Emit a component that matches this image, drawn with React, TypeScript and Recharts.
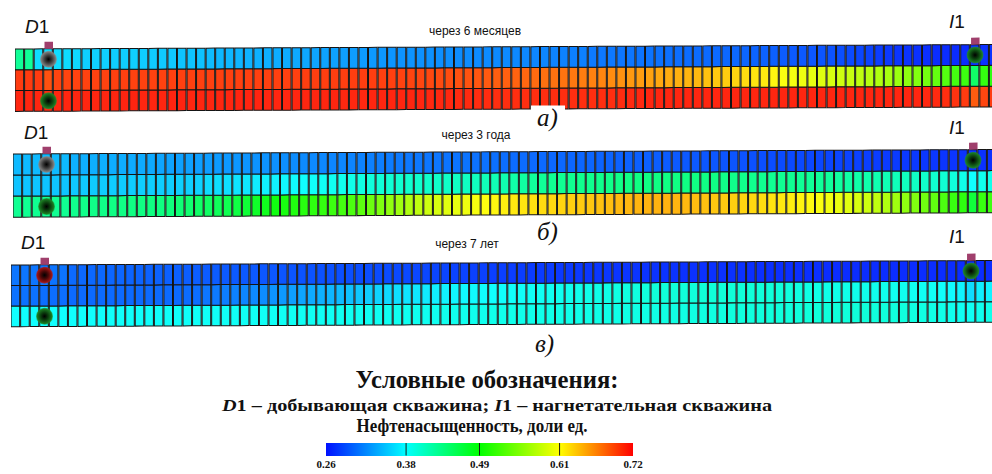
import React from 'react'
import { BarChart, Bar, XAxis, YAxis, Cell, ReferenceDot, ReferenceLine } from 'recharts'

// Нефтенасыщенность по ячейкам профиля: 3 слоя (сверху вниз) x 103 столбца.
const COLS = 103

// а) через 6 месяцев
const satA1 = [
  0.428, 0.428, 0.362, 0.362, 0.362, 0.362, 0.360, 0.356, 0.356, 0.356,
  0.355, 0.355, 0.355, 0.354, 0.354, 0.353, 0.352, 0.350, 0.350, 0.349,
  0.346, 0.344, 0.343, 0.342, 0.341, 0.340, 0.339, 0.338, 0.337, 0.336,
  0.335, 0.334, 0.333, 0.332, 0.331, 0.330, 0.329, 0.328, 0.327, 0.326,
  0.325, 0.325, 0.324, 0.324, 0.323, 0.323, 0.322, 0.322, 0.321, 0.321,
  0.320, 0.320, 0.319, 0.319, 0.318, 0.318, 0.317, 0.316, 0.315, 0.315,
  0.312, 0.311, 0.311, 0.310, 0.310, 0.309, 0.309, 0.308, 0.307, 0.306,
  0.305, 0.305, 0.304, 0.304, 0.303, 0.303, 0.302, 0.301, 0.300, 0.299,
  0.297, 0.296, 0.295, 0.294, 0.293, 0.292, 0.290, 0.288, 0.286, 0.284,
  0.281, 0.279, 0.277, 0.276, 0.275, 0.274, 0.273, 0.273, 0.272, 0.272,
  0.274, 0.275, 0.276,
]
const satA2 = [
  0.700, 0.700, 0.700, 0.690, 0.696, 0.696, 0.697, 0.697, 0.697, 0.697,
  0.698, 0.698, 0.697, 0.697, 0.697, 0.697, 0.698, 0.698, 0.698, 0.698,
  0.698, 0.698, 0.698, 0.698, 0.698, 0.698, 0.698, 0.698, 0.698, 0.698,
  0.699, 0.699, 0.699, 0.699, 0.699, 0.699, 0.699, 0.699, 0.698, 0.698,
  0.697, 0.696, 0.695, 0.694, 0.693, 0.692, 0.690, 0.689, 0.688, 0.686,
  0.684, 0.683, 0.682, 0.680, 0.678, 0.676, 0.675, 0.674, 0.672, 0.670,
  0.668, 0.666, 0.663, 0.660, 0.657, 0.655, 0.653, 0.650, 0.648, 0.646,
  0.644, 0.642, 0.638, 0.635, 0.633, 0.630, 0.626, 0.622, 0.619, 0.614,
  0.608, 0.605, 0.602, 0.598, 0.594, 0.590, 0.586, 0.582, 0.578, 0.574,
  0.570, 0.566, 0.560, 0.553, 0.547, 0.540, 0.532, 0.524, 0.516, 0.512,
  0.450, 0.508, 0.505,
]
const satA3 = [
  0.710, 0.710, 0.710, 0.708, 0.710, 0.710, 0.710, 0.710, 0.710, 0.710,
  0.710, 0.711, 0.711, 0.710, 0.710, 0.710, 0.711, 0.711, 0.710, 0.710,
  0.710, 0.710, 0.710, 0.711, 0.711, 0.711, 0.710, 0.710, 0.710, 0.710,
  0.710, 0.710, 0.710, 0.710, 0.709, 0.709, 0.709, 0.710, 0.710, 0.710,
  0.710, 0.710, 0.710, 0.709, 0.709, 0.709, 0.708, 0.708, 0.707, 0.707,
  0.706, 0.706, 0.706, 0.706, 0.706, 0.706, 0.706, 0.706, 0.706, 0.706,
  0.706, 0.706, 0.706, 0.707, 0.708, 0.709, 0.710, 0.710, 0.710, 0.710,
  0.710, 0.710, 0.710, 0.710, 0.710, 0.710, 0.710, 0.710, 0.710, 0.710,
  0.710, 0.710, 0.710, 0.710, 0.710, 0.710, 0.710, 0.710, 0.710, 0.710,
  0.710, 0.710, 0.710, 0.710, 0.710, 0.709, 0.708, 0.706, 0.704, 0.700,
  0.685, 0.695, 0.700,
]

// б) через 3 года
const satB1 = [
  0.345, 0.345, 0.345, 0.345, 0.345, 0.345, 0.340, 0.339, 0.339, 0.339,
  0.338, 0.338, 0.337, 0.337, 0.336, 0.334, 0.333, 0.332, 0.332, 0.331,
  0.330, 0.329, 0.328, 0.327, 0.326, 0.325, 0.325, 0.324, 0.323, 0.322,
  0.321, 0.320, 0.319, 0.318, 0.318, 0.317, 0.316, 0.315, 0.314, 0.313,
  0.312, 0.311, 0.311, 0.310, 0.310, 0.309, 0.309, 0.309, 0.308, 0.308,
  0.307, 0.306, 0.305, 0.305, 0.304, 0.304, 0.303, 0.303, 0.302, 0.302,
  0.302, 0.301, 0.301, 0.300, 0.300, 0.299, 0.299, 0.298, 0.297, 0.296,
  0.295, 0.295, 0.294, 0.294, 0.293, 0.293, 0.292, 0.291, 0.290, 0.289,
  0.288, 0.287, 0.287, 0.286, 0.286, 0.285, 0.285, 0.284, 0.283, 0.282,
  0.281, 0.280, 0.280, 0.279, 0.279, 0.278, 0.278, 0.277, 0.277, 0.276,
  0.275, 0.275, 0.275,
]
const satB2 = [
  0.350, 0.350, 0.350, 0.350, 0.350, 0.350, 0.352, 0.353, 0.353, 0.354,
  0.354, 0.354, 0.354, 0.355, 0.355, 0.355, 0.355, 0.356, 0.356, 0.357,
  0.362, 0.363, 0.364, 0.366, 0.368, 0.370, 0.372, 0.374, 0.376, 0.378,
  0.380, 0.382, 0.384, 0.386, 0.388, 0.390, 0.393, 0.396, 0.398, 0.400,
  0.401, 0.402, 0.403, 0.404, 0.405, 0.406, 0.407, 0.408, 0.410, 0.412,
  0.414, 0.417, 0.420, 0.423, 0.426, 0.428, 0.430, 0.430, 0.431, 0.432,
  0.432, 0.433, 0.434, 0.435, 0.436, 0.437, 0.437, 0.437, 0.437, 0.437,
  0.437, 0.437, 0.436, 0.436, 0.435, 0.434, 0.433, 0.432, 0.431, 0.430,
  0.430, 0.430, 0.429, 0.428, 0.427, 0.426, 0.424, 0.422, 0.420, 0.418,
  0.416, 0.414, 0.412, 0.410, 0.407, 0.404, 0.402, 0.400, 0.396, 0.390,
  0.380, 0.388, 0.390,
]
const satB3 = [
  0.430, 0.430, 0.430, 0.430, 0.430, 0.430, 0.432, 0.434, 0.435, 0.435,
  0.436, 0.436, 0.437, 0.437, 0.438, 0.438, 0.440, 0.443, 0.446, 0.450,
  0.452, 0.456, 0.460, 0.466, 0.472, 0.478, 0.484, 0.490, 0.494, 0.498,
  0.502, 0.505, 0.508, 0.512, 0.516, 0.520, 0.528, 0.536, 0.545, 0.555,
  0.562, 0.570, 0.578, 0.585, 0.590, 0.595, 0.598, 0.602, 0.606, 0.610,
  0.614, 0.617, 0.620, 0.622, 0.624, 0.626, 0.628, 0.630, 0.632, 0.634,
  0.636, 0.638, 0.640, 0.642, 0.643, 0.644, 0.645, 0.645, 0.645, 0.644,
  0.642, 0.640, 0.638, 0.636, 0.634, 0.632, 0.630, 0.628, 0.625, 0.622,
  0.620, 0.618, 0.615, 0.612, 0.608, 0.604, 0.600, 0.595, 0.590, 0.585,
  0.578, 0.570, 0.562, 0.554, 0.546, 0.538, 0.530, 0.520, 0.510, 0.505,
  0.470, 0.510, 0.512,
]

// в) через 7 лет
const satC1 = [
  0.310, 0.310, 0.310, 0.309, 0.309, 0.309, 0.304, 0.303, 0.303, 0.303,
  0.302, 0.302, 0.301, 0.301, 0.300, 0.300, 0.299, 0.299, 0.298, 0.298,
  0.297, 0.297, 0.296, 0.296, 0.295, 0.295, 0.294, 0.294, 0.293, 0.293,
  0.292, 0.292, 0.291, 0.291, 0.290, 0.290, 0.289, 0.289, 0.288, 0.288,
  0.287, 0.287, 0.286, 0.286, 0.285, 0.285, 0.284, 0.284, 0.283, 0.283,
  0.282, 0.282, 0.281, 0.281, 0.280, 0.280, 0.280, 0.279, 0.279, 0.279,
  0.278, 0.278, 0.278, 0.277, 0.277, 0.277, 0.276, 0.276, 0.276, 0.276,
  0.275, 0.275, 0.275, 0.275, 0.275, 0.275, 0.275, 0.274, 0.274, 0.274,
  0.274, 0.274, 0.274, 0.274, 0.274, 0.273, 0.273, 0.273, 0.273, 0.273,
  0.273, 0.273, 0.273, 0.273, 0.273, 0.273, 0.273, 0.273, 0.273, 0.273,
  0.273, 0.273, 0.273,
]
const satC2 = [
  0.308, 0.308, 0.308, 0.306, 0.306, 0.306, 0.304, 0.304, 0.304, 0.304,
  0.304, 0.304, 0.304, 0.304, 0.304, 0.304, 0.304, 0.304, 0.305, 0.306,
  0.310, 0.312, 0.314, 0.316, 0.318, 0.320, 0.322, 0.325, 0.328, 0.331,
  0.334, 0.337, 0.340, 0.343, 0.346, 0.349, 0.352, 0.355, 0.358, 0.361,
  0.364, 0.366, 0.368, 0.370, 0.372, 0.374, 0.376, 0.377, 0.378, 0.379,
  0.380, 0.381, 0.382, 0.383, 0.384, 0.385, 0.386, 0.387, 0.388, 0.389,
  0.390, 0.391, 0.392, 0.393, 0.394, 0.395, 0.396, 0.397, 0.397, 0.397,
  0.397, 0.397, 0.398, 0.398, 0.398, 0.398, 0.398, 0.398, 0.397, 0.397,
  0.396, 0.395, 0.394, 0.393, 0.392, 0.391, 0.390, 0.390, 0.389, 0.389,
  0.388, 0.388, 0.387, 0.387, 0.386, 0.385, 0.384, 0.382, 0.378, 0.374,
  0.362, 0.372, 0.374,
]
const satC3 = [
  0.380, 0.380, 0.380, 0.380, 0.380, 0.380, 0.381, 0.381, 0.381, 0.381,
  0.382, 0.382, 0.382, 0.382, 0.382, 0.382, 0.383, 0.383, 0.383, 0.383,
  0.383, 0.383, 0.384, 0.384, 0.384, 0.384, 0.384, 0.384, 0.385, 0.385,
  0.385, 0.385, 0.385, 0.385, 0.386, 0.386, 0.386, 0.386, 0.386, 0.386,
  0.387, 0.387, 0.387, 0.387, 0.387, 0.388, 0.388, 0.388, 0.388, 0.388,
  0.389, 0.389, 0.389, 0.389, 0.389, 0.390, 0.390, 0.390, 0.390, 0.390,
  0.391, 0.391, 0.391, 0.391, 0.392, 0.392, 0.392, 0.392, 0.393, 0.393,
  0.393, 0.393, 0.394, 0.394, 0.394, 0.395, 0.395, 0.395, 0.395, 0.396,
  0.396, 0.396, 0.396, 0.397, 0.397, 0.397, 0.397, 0.397, 0.397, 0.397,
  0.396, 0.396, 0.395, 0.395, 0.394, 0.393, 0.392, 0.390, 0.388, 0.386,
  0.385, 0.388, 0.390,
]

// все три слоя одинаковой толщины
const LAYER_KEYS = ['bottom', 'middle', 'top']
const LAYER_THICKNESS = [1, 1, 1]

// шкала нефтенасыщенности
const SCALE_STOPS = [0.26, 0.38, 0.49, 0.61, 0.72]
const SCALE_COLORS = ['#0a14ff', '#10ffff', '#10ff10', '#ffff10', '#ff1010']
const LEGEND_COLORS = ['#0010ff', '#00ffff', '#00ff00', '#ffff00', '#ff0000']
const LEGEND_DATA = [{ name: 'sat', span: [0.26, 0.72] }]

const SANS = "'Liberation Sans', Arial, sans-serif"
const SERIF = "'Liberation Serif', 'Times New Roman', serif"

const hexRgb = (h: string) => [1, 3, 5].map((p) => parseInt(h.slice(p, p + 2), 16))

function satColor(s: number) {
  const v = Math.min(Math.max(s, SCALE_STOPS[0]), SCALE_STOPS[SCALE_STOPS.length - 1])
  let k = 0
  while (k < SCALE_STOPS.length - 2 && v > SCALE_STOPS[k + 1]) k++
  const t = (v - SCALE_STOPS[k]) / (SCALE_STOPS[k + 1] - SCALE_STOPS[k])
  const a = hexRgb(SCALE_COLORS[k])
  const b = hexRgb(SCALE_COLORS[k + 1])
  const c = a.map((x, i) => Math.round(x + (b[i] - x) * t))
  return `rgb(${c[0]},${c[1]},${c[2]})`
}

type Well = { col: number; layer: 'top' | 'bottom'; tone: 'gray' | 'green' | 'red'; cap?: boolean }

const WellMark = ({ cx, cy, tone, cap, rowH }: any) => (
  <g>
    {cap && <rect x={cx - 4} y={cy - rowH / 2 - 7} width={8.5} height={7} fill="#a03f6c" />}
    <circle cx={cx} cy={cy} r={8.5} fill={`url(#well-${tone})`} />
  </g>
)

const PLOT_W = 984
const TOP_PAD = 12

const Panel = ({ rows, left, top, height, wells }: {
  rows: number[][]; left: number; top: number; height: number; wells: Well[]
}) => {
  const data = rows[0].map((_, i) => {
    const d: Record<string, number> = { col: i }
    LAYER_KEYS.forEach((k, j) => (d[k] = LAYER_THICKNESS[j]))
    return d
  })
  // rows идут сверху вниз, стек строится снизу вверх
  const byLayer = [rows[2], rows[1], rows[0]]
  const rowH = height / 3
  return (
    <div style={{ position: 'absolute', left, top: top - TOP_PAD, transform: 'skewY(-0.26deg)', transformOrigin: '0 0' }}>
      <BarChart
        width={PLOT_W}
        height={height + TOP_PAD + 2}
        data={data}
        margin={{ top: TOP_PAD, right: 0, bottom: 2, left: 0 }}
        barCategoryGap={0}
        barGap={0}
      >
        <XAxis dataKey="col" hide />
        <YAxis hide domain={[0, 3]} />
        {LAYER_KEYS.map((k, j) => (
          <Bar key={k} dataKey={k} stackId="grid" barSize={PLOT_W / COLS + 0.5}
            stroke="#141414" strokeWidth={1} isAnimationActive={false}>
            {byLayer[j].map((s, i) => (
              <Cell key={i} fill={satColor(s)} />
            ))}
          </Bar>
        ))}
        {wells.map((w, i) => (
          <ReferenceDot key={i} x={w.col} y={w.layer === 'top' ? 2.5 : 0.5} r={8}
            ifOverflow="visible"
            shape={(p: any) => <WellMark cx={p.cx} cy={p.cy} tone={w.tone} cap={w.cap} rowH={rowH} />}
          />
        ))}
      </BarChart>
    </div>
  )
}

const WELLS_A: Well[] = [
  { col: 3, layer: 'top', tone: 'gray', cap: true },
  { col: 3, layer: 'bottom', tone: 'green' },
  { col: 100, layer: 'top', tone: 'green', cap: true },
]
const WELLS_C: Well[] = [
  { col: 3, layer: 'top', tone: 'red', cap: true },
  { col: 3, layer: 'bottom', tone: 'green' },
  { col: 100, layer: 'top', tone: 'green', cap: true },
]

const WellLabel = ({ x, y, letter }: { x: number; y: number; letter: string }) => (
  <text x={x} y={y} fontFamily={SANS} fontSize={19} fill="#111">
    <tspan fontStyle="italic">{letter}</tspan>1
  </text>
)

const ScaleBar = () => (
  <div style={{ position: 'absolute', left: 309.5, top: 442.7 }}>
    <BarChart width={340} height={32} data={LEGEND_DATA} layout="vertical"
      margin={{ top: 0, right: 17, bottom: 0, left: 16 }} barCategoryGap={0}>
      <XAxis type="number" domain={[0.26, 0.72]} ticks={SCALE_STOPS} allowDataOverflow
        height={19.5} axisLine={false} tickLine={false} tickSize={3} tickMargin={2}
        interval={0} tickFormatter={(v: number) => v.toFixed(2)}
        tick={{ fontSize: 11, fontWeight: 'bold', fontFamily: SERIF, fill: '#111' }} />
      <YAxis type="category" dataKey="name" hide />
      <Bar dataKey="span" fill="url(#sat-scale)" isAnimationActive={false} />
      {SCALE_STOPS.slice(1, -1).map((v) => (
        <ReferenceLine key={v} x={v} stroke="#1a1a1a" strokeWidth={1} />
      ))}
    </BarChart>
  </div>
)

export default function App() {
  return (
    <div style={{ position: 'relative', width: 992, height: 474, overflow: 'hidden', background: '#fff' }}>
      <style>{'body{margin:0}'}</style>
      <svg width={0} height={0} style={{ position: 'absolute' }}>
        <defs>
          <radialGradient id="well-gray">
            <stop offset="0%" stopColor="#000" />
            <stop offset="45%" stopColor="#3c3c3c" />
            <stop offset="85%" stopColor="#7a7a7a" />
            <stop offset="100%" stopColor="#8e8e8e" stopOpacity={0.6} />
          </radialGradient>
          <radialGradient id="well-green">
            <stop offset="0%" stopColor="#000" />
            <stop offset="45%" stopColor="#0b3f0e" />
            <stop offset="85%" stopColor="#1a7a22" />
            <stop offset="100%" stopColor="#24902c" stopOpacity={0.6} />
          </radialGradient>
          <radialGradient id="well-red">
            <stop offset="0%" stopColor="#000" />
            <stop offset="45%" stopColor="#4a0808" />
            <stop offset="85%" stopColor="#9a1414" />
            <stop offset="100%" stopColor="#b02020" stopOpacity={0.6} />
          </radialGradient>
          <linearGradient id="sat-scale" x1="0" y1="0" x2="1" y2="0">
            {SCALE_STOPS.map((v, i) => (
              <stop key={v} offset={(v - 0.26) / 0.46} stopColor={LEGEND_COLORS[i]} />
            ))}
          </linearGradient>
        </defs>
      </svg>

      <Panel rows={[satA1, satA2, satA3]} left={15} top={49.3} height={62.4} wells={WELLS_A} />
      <Panel rows={[satB1, satB2, satB3]} left={13} top={154.3} height={63.2} wells={WELLS_A} />
      <Panel rows={[satC1, satC2, satC3]} left={11} top={265} height={61.7} wells={WELLS_C} />
      <ScaleBar />

      <svg width={992} height={474} style={{ position: 'absolute', left: 0, top: 0, pointerEvents: 'none' }}>
        <WellLabel x={25} y={33} letter="D" />
        <WellLabel x={949} y={28} letter="I" />
        <WellLabel x={24} y={139} letter="D" />
        <WellLabel x={949} y={134} letter="I" />
        <WellLabel x={21} y={249} letter="D" />
        <WellLabel x={949} y={243} letter="I" />

        <g fontFamily={SANS} fontSize={12} fill="#111" textAnchor="middle">
          <text x={475} y={35}>через 6 месяцев</text>
          <text x={476} y={139}>через 3 года</text>
          <text x={467} y={248}>через 7 лет</text>
        </g>

        <rect x={531} y={105.5} width={34} height={26} fill="#fff" />
        <g fontFamily={SERIF} fontSize={25} fontStyle="italic" fill="#111">
          <text x={537} y={126}>а)</text>
          <text x={537} y={240}>б)</text>
          <text x={535} y={352}>в)</text>
        </g>

        <g fontFamily={SERIF} fontWeight="bold" fill="#111" textAnchor="middle">
          <text x={487} y={388} fontSize={26} textLength={263} lengthAdjust="spacingAndGlyphs">Условные обозначения:</text>
          <text x={497} y={411} fontSize={17} textLength={550} lengthAdjust="spacingAndGlyphs">
            <tspan fontStyle="italic">D</tspan>1 – добывающая скважина; <tspan fontStyle="italic">I</tspan>1 – нагнетательная скважина
          </text>
          <text x={472} y={432} fontSize={19} textLength={231} lengthAdjust="spacingAndGlyphs">Нефтенасыщенность, доли ед.</text>
        </g>
      </svg>
    </div>
  )
}
